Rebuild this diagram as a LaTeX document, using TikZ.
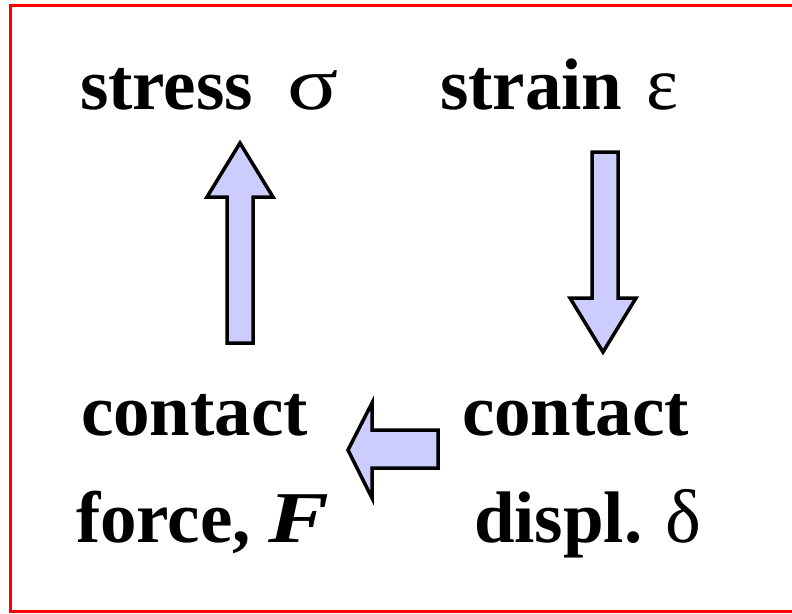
\documentclass[tikz,border=0pt]{standalone}
\usepackage{fontspec}
\setmainfont{Liberation Serif}
\begin{document}
\begin{tikzpicture}[x=1pt,y=-1pt,
  lbl/.style={anchor=base west,inner sep=0pt,outer sep=0pt,font=\fontsize{73}{73}\selectfont\bfseries},
  blockarrow/.style={draw=black,line width=3.5pt,fill=arrowfill,line join=miter}]
\definecolor{arrowfill}{RGB}{204,204,255}
\newcommand{\grk}[1]{{\mdseries\fontsize{76}{76}\selectfont #1}}
\useasboundingbox (0,0) rectangle (792,613);
\clip (0,0) rectangle (792,613);
\draw[red,line width=3pt] (10,5.5) rectangle (820,611);
% labels
\node[lbl] (stress) at (80,109) {stress\hspace{34pt}\scalebox{1.25}[1]{\grk{σ}}};
\node[lbl] (strain) at (440,109) {strain\hspace{24pt}\grk{ε}};
\node[lbl] (contactL) at (81,435) {contact};
\node[lbl] (force) at (76,542) {force,\hspace{18pt}\scalebox{1.25}[1]{\textit{F}}};
\node[lbl] (contactR) at (462,435) {contact};
\node[lbl] (displ) at (474,542) {displ.\hspace{23pt}\grk{δ}};
% up arrow (force -> stress)
\draw[blockarrow] (240,143) -- (273,197) -- (253,197) -- (253,343) -- (227,343) -- (227,197) -- (207,197) -- cycle;
% down arrow (strain -> displ)
\draw[blockarrow] (603,352) -- (636,298) -- (618,298) -- (618,152) -- (592,152) -- (592,298) -- (570,298) -- cycle;
% left arrow (displ -> force)
\draw[blockarrow] (348,450) -- (372,403) -- (372,430) -- (438,430) -- (438,468) -- (372,468) -- (372,498) -- cycle;
\end{tikzpicture}
\end{document}
